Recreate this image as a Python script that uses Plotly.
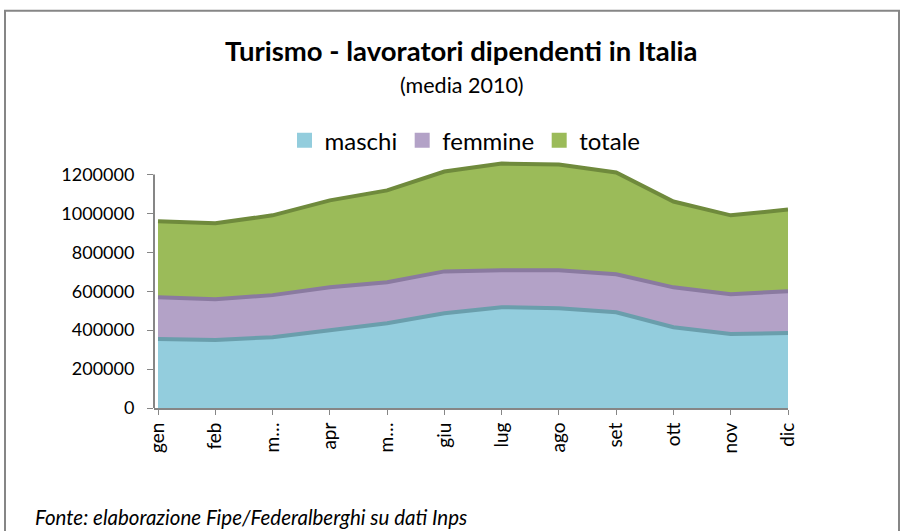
import plotly.graph_objects as go

months = ["gen", "feb", "mar", "apr", "mag", "giu", "lug", "ago", "set", "ott", "nov", "dic"]
tick_labels = ["gen", "feb", "m…", "apr", "m…", "giu", "lug", "ago", "set", "ott", "nov", "dic"]

maschi = [354000, 349000, 364000, 400000, 436000, 487000, 518000, 513000, 492000, 415000, 380000, 385000]
femmine = [569000, 559000, 580000, 620000, 646000, 702000, 708000, 708000, 687000, 620000, 585000, 600000]
totale = [959000, 949000, 990000, 1067000, 1118000, 1215000, 1256000, 1251000, 1210000, 1061000, 990000, 1020000]

y_ticks = [0, 200000, 400000, 600000, 800000, 1000000, 1200000]

series = [
    ("totale", totale, "#9BBB59", "#6F8A3C"),
    ("femmine", femmine, "#B3A2C7", "#8A7AA0"),
    ("maschi", maschi, "#93CDDD", "#6A9EAC"),
]

x_idx = list(range(len(months)))

fig = go.Figure()
for name, vals, fill, edge in series:
    fig.add_trace(go.Scatter(
        x=x_idx, y=vals, mode="lines", fill="tozeroy",
        fillcolor=fill, line=dict(color=edge, width=4),
        name=name, showlegend=False, hoverinfo="x+y+name",
    ))

for name, vals, fill, edge in reversed(series):
    fig.add_trace(go.Scatter(
        x=[None], y=[None], mode="markers",
        marker=dict(symbol="square", size=15, color=fill),
        name=name, showlegend=True,
    ))

FW, FH = 906, 531
left_s, right_s, top_s, bot_s = 154, 788, 154.5, 408
L, T = left_s, top_s
R, B = FW - right_s, FH - bot_s
W = right_s - left_s
H = bot_s - top_s

def px(x):
    return (x - left_s) / W

def py(y):
    return (bot_s - y) / H

fig.update_layout(
    width=FW, height=FH,
    margin=dict(l=L, r=R, t=T, b=B, autoexpand=False),
    paper_bgcolor="white", plot_bgcolor="white",
    font=dict(family="Lato, Carlito, sans-serif", color="#000000"),
    showlegend=True,
    legend=dict(
        orientation="h", x=px(465), xanchor="center", y=py(140), yanchor="middle",
        font=dict(size=24, color="#000000"), itemwidth=30, traceorder="normal",
        bgcolor="rgba(0,0,0,0)",
    ),
    xaxis=dict(
        range=[-0.07, 11.0], tickmode="array", tickvals=x_idx, ticktext=tick_labels,
        tickangle=-90, tickfont=dict(size=19), ticks="outside", ticklen=5,
        tickcolor="#868686", showline=True, linecolor="#868686", linewidth=2,
        showgrid=False, zeroline=False,
    ),
    yaxis=dict(
        range=[0, 1300000], tickmode="array", tickvals=y_ticks,
        ticktext=[str(v) for v in y_ticks], tickfont=dict(size=18),
        ticks="outside", ticklen=6, tickcolor="#868686", ticklabelstandoff=9,
        showline=False, showgrid=False, zeroline=False,
    ),
    shapes=[
        dict(type="rect", xref="paper", yref="paper",
             x0=px(5), x1=px(899), y0=py(560), y1=py(10),
             line=dict(color="#868686", width=2), fillcolor="rgba(0,0,0,0)", layer="below"),
        dict(type="line", xref="paper", yref="y", x0=0, x1=0, y0=0, y1=y_ticks[-1],
             line=dict(color="#868686", width=2)),
    ],
    annotations=[
        dict(text="<b>Turismo - lavoratori dipendenti in Italia</b>", xref="paper", yref="paper",
             x=px(461.5), y=py(50), xanchor="center", yanchor="middle", showarrow=False,
             font=dict(size=27.5)),
        dict(text="(media 2010)", xref="paper", yref="paper",
             x=px(462), y=py(84), xanchor="center", yanchor="middle", showarrow=False,
             font=dict(size=21.5)),
        dict(text="<i>Fonte: elaborazione Fipe/Federalberghi su dati Inps</i>", xref="paper", yref="paper",
             x=px(33), y=py(517), xanchor="left", yanchor="middle", showarrow=False,
             font=dict(size=20.5)),
    ],
)

fig.write_html("out.html", config={"displayModeBar": False},
               post_script="document.body.style.margin='0px';")
